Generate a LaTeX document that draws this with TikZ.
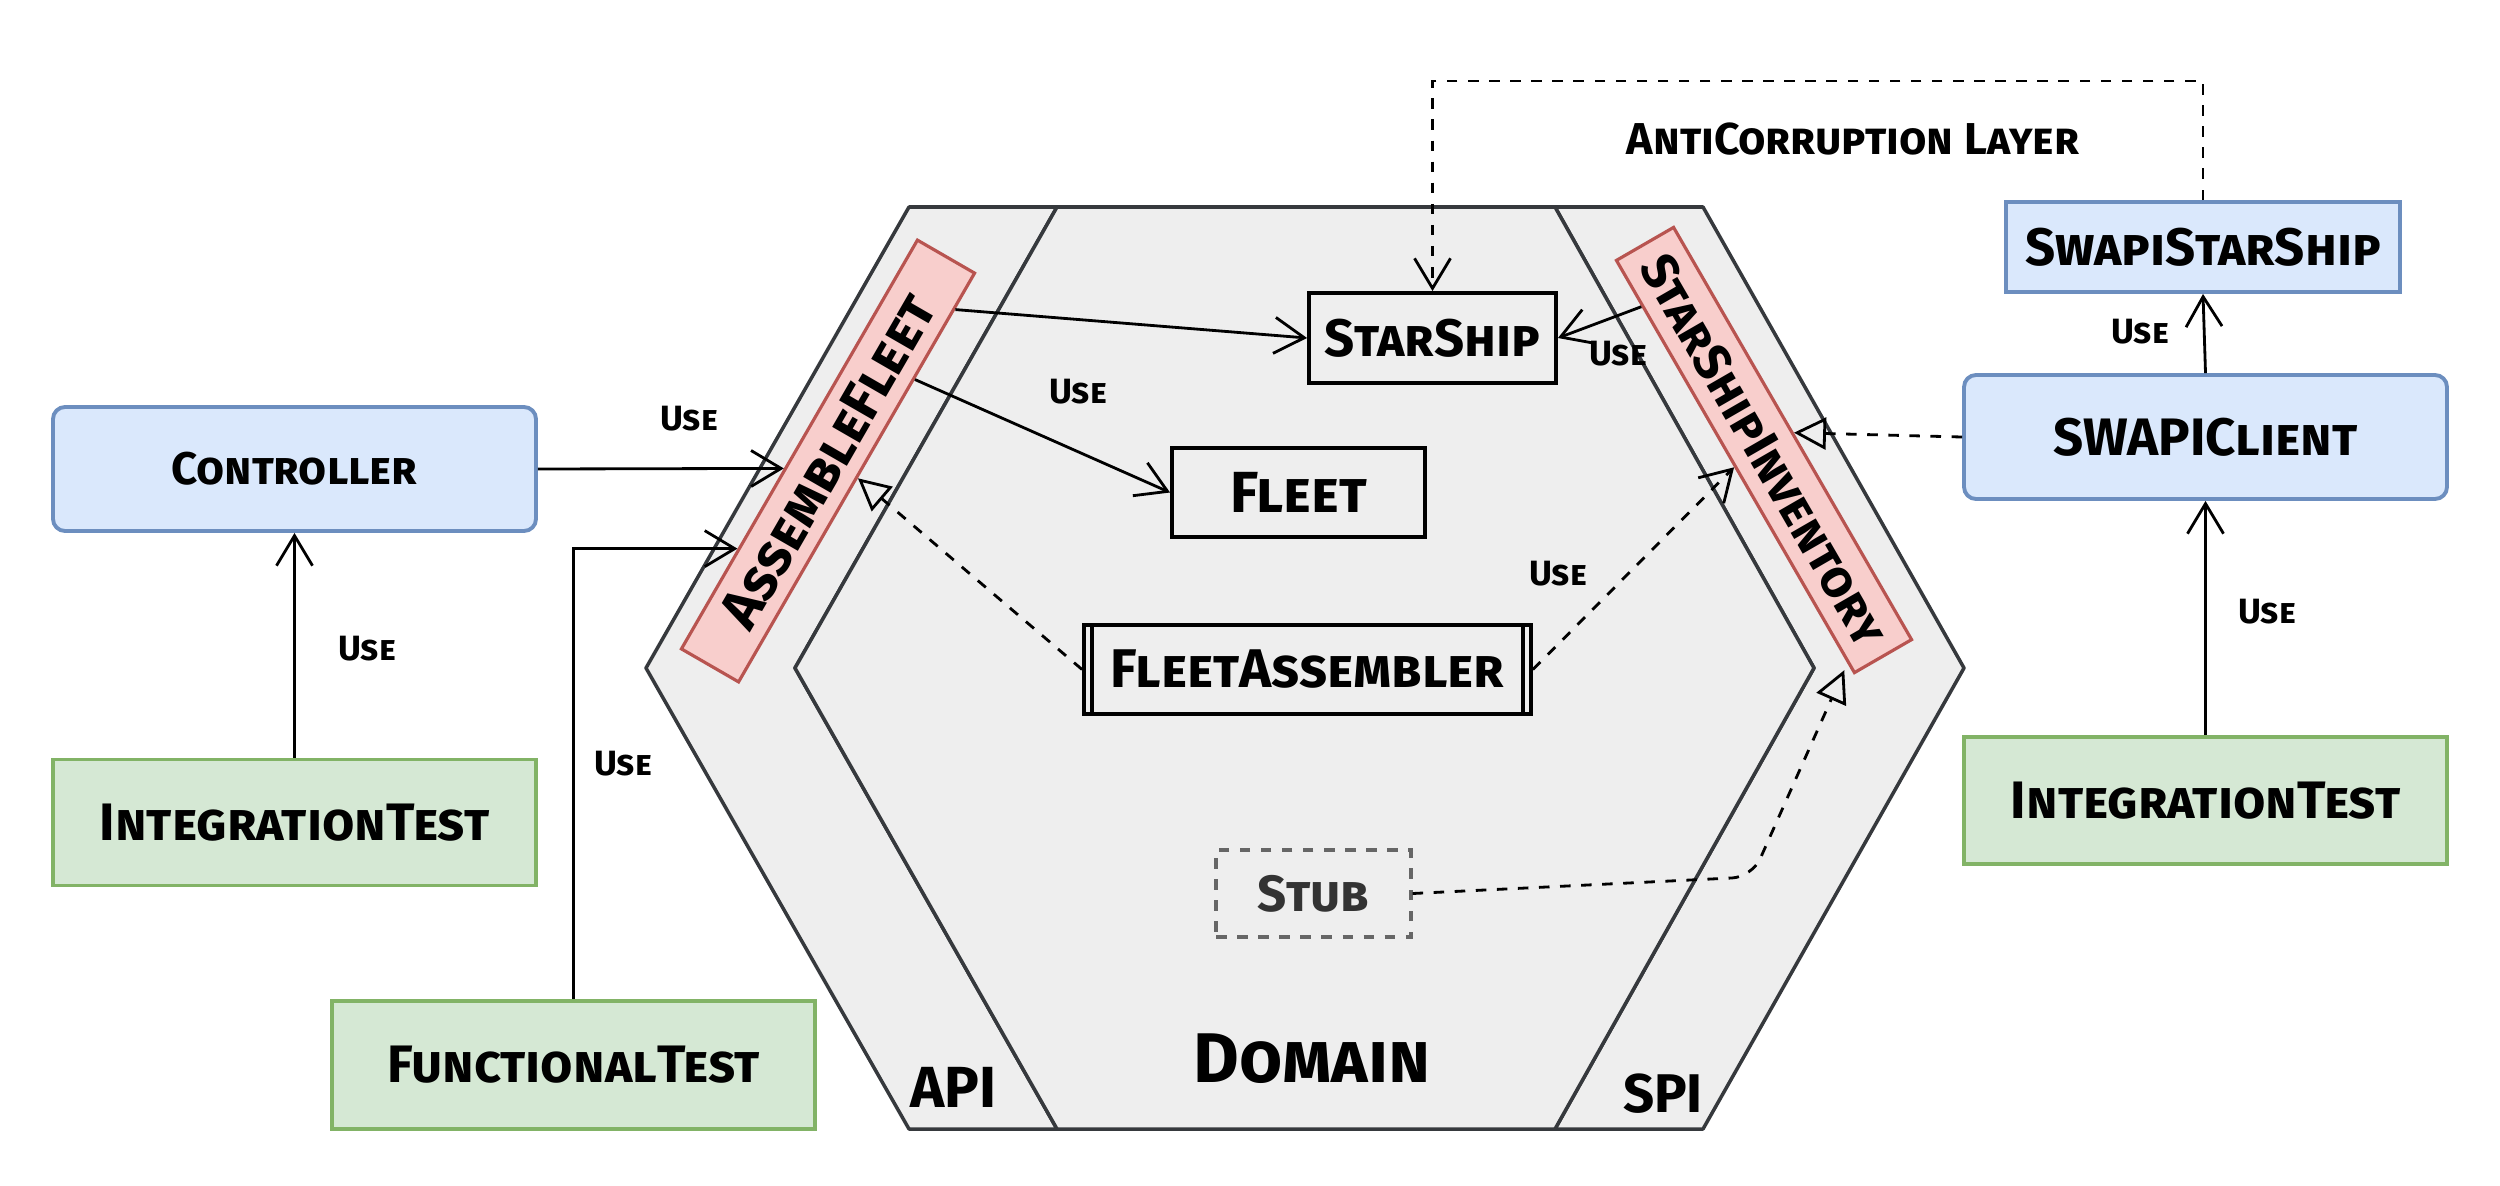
\documentclass[tikz,border=0pt]{standalone}
\usepackage{fontspec}
\setmainfont{Fira Sans}
\usetikzlibrary{arrows.meta,calc}
\definecolor{blueF}{HTML}{DAE8FC}
\definecolor{blueD}{HTML}{6C8EBF}
\definecolor{greenF}{HTML}{D5E8D4}
\definecolor{greenD}{HTML}{82B366}
\definecolor{redF}{HTML}{F8CECC}
\definecolor{redD}{HTML}{B85450}
\definecolor{hexF}{HTML}{EEEEEE}
\definecolor{hexD}{HTML}{36393D}
\definecolor{stubD}{HTML}{666666}
\definecolor{stubT}{HTML}{333333}
\begin{document}
\begin{tikzpicture}[x=0.1mm,y=-0.1mm,
  big/.style={font=\fontsize{15}{17}\selectfont\bfseries\scshape},
  usel/.style={font=\fontsize{10}{12}\selectfont\bfseries\scshape, inner sep=0pt},
  hexline/.style={draw=hexD, fill=hexF, line width=1pt, line join=round},
  bluebox/.style={big, draw=blueD, fill=blueF, line width=1.1pt, rounded corners=1.2mm, minimum width=48.3mm, minimum height=12.4mm},
  greenbox/.style={big, draw=greenD, fill=greenF, line width=1.1pt, minimum width=48.3mm, minimum height=12.6mm},
  plainbox/.style={big, draw=black, line width=1.1pt},
  redbox/.style={draw=redD, fill=redF, line width=0.9pt, minimum width=47.2mm, minimum height=6.6mm, inner sep=1pt},
  conn/.style={line width=0.8pt, -{Straight Barb[length=3mm,width=3.6mm,line width=0.8pt]}},
  dconn/.style={conn, dashed},
  real/.style={line width=0.8pt, dashed, -{Triangle[open,length=3.2mm,width=3.2mm,line width=0.8pt]}}
]
\useasboundingbox (0,0) rectangle (2500,1185);

% hexagon: API band, SPI band, domain
\draw[hexline] (909,207) -- (1057,207) -- (795,668) -- (1057,1129) -- (909,1129) -- (646,668) -- cycle;
\draw[hexline] (1555,207) -- (1703,207) -- (1964,668) -- (1703,1129) -- (1555,1129) -- (1814,668) -- cycle;
\draw[hexline] (1057,207) -- (1555,207) -- (1814,668) -- (1555,1129) -- (1057,1129) -- (795,668) -- cycle;

\node[font=\fontsize{16.5}{19}\selectfont\bfseries\scshape] (api) at (953,1087) {API};
\node[font=\fontsize{15.5}{18}\selectfont\bfseries\scshape] (spi) at (1663,1094) {SPI};
\node[font=\fontsize{20}{24}\selectfont\bfseries\scshape] (domain) at (1312,1059) {Domain};

% outside boxes
\node[bluebox, font=\fontsize{13}{15}\selectfont\bfseries\scshape] (ctrl) at (294.5,469) {Controller};
\node[greenbox] (itl) at (294.5,822.5) {IntegrationTest};
\node[greenbox, minimum height=12.8mm] (ft) at (573.5,1065) {FunctionalTest};
\node[bluebox, rounded corners=0pt, minimum width=39.4mm, minimum height=9mm] (sss) at (2203,247) {SwapiStarShip};
\node[bluebox] (swc) at (2205.5,437) {SWAPIClient};
\node[greenbox, minimum height=12.7mm] (itr) at (2205.5,800.5) {IntegrationTest};

% domain boxes
\node[plainbox, minimum width=24.7mm, minimum height=9mm] (ss) at (1432.5,338) {StarShip};
\node[plainbox, minimum width=25.3mm, minimum height=8.9mm, font=\fontsize{16.5}{19}\selectfont\bfseries\scshape] (fleet) at (1298.5,492.5) {Fleet};
\node[plainbox, minimum width=44.7mm, minimum height=8.9mm, font=\fontsize{15.5}{18}\selectfont\bfseries\scshape] (fa) at (1307.5,669.5) {FleetAssembler};
\draw[line width=1.1pt] ([xshift=1mm]fa.north west) -- ([xshift=1mm]fa.south west);
\draw[line width=1.1pt] ([xshift=-1mm]fa.north east) -- ([xshift=-1mm]fa.south east);
\node[draw=stubD, dashed, line width=0.9pt, text=stubT, minimum width=19.5mm, minimum height=8.7mm, font=\fontsize{14.5}{17}\selectfont\bfseries\scshape] (stub) at (1313.5,893.5) {Stub};

% ports
\node[redbox, rotate=60, font=\fontsize{16}{18}\selectfont\bfseries\scshape] (af) at (828,461) {AssembleFleet};
\node[redbox, rotate=-60, minimum width=47.6mm, font=\fontsize{14.5}{17}\selectfont\bfseries\scshape] (ssi) at (1764,450) {StarShipInventory};

% connector anchor points
\coordinate (afin1) at ($(af.north west)!0.44!(af.north east)$);
\coordinate (afin2) at ($(af.north west)!0.245!(af.north east)$);
\coordinate (afout1) at ($(af.south west)!0.91!(af.south east)$);
\coordinate (afout2) at ($(af.south west)!0.74!(af.south east)$);
\coordinate (ssiout) at ($(ssi.south west)!0.113!(ssi.south east)$);
\coordinate (ssibot) at ($(ssi.south west)!0.96!(ssi.south east)+(0,12)$);
\coordinate (stubbend) at (1752,877);

% connectors
\draw[conn] (ctrl.east) -- (afin1);
\draw[conn] (itl.north) -- (ctrl.south);
\draw[conn] (ft.north) |- (afin2);
\draw[conn] (afout1) -- (ss.west);
\draw[conn] (afout2) -- (fleet.west);
\draw[conn] (ssiout) -- (ss.east);
\draw[real] (fa.west) -- (af.south);
\draw[dconn] (fa.east) -- (ssi.south);
\draw[real, rounded corners=2mm] (stub.east) -- (stubbend) -- (ssibot);
\draw[real] (swc.west) -- (ssi.north);
\draw[conn] (swc.north) -- (sss.south);
\draw[conn] (itr.north) -- (swc.south);
\draw[dconn] (sss.north) -- ++(0,-119) -| (ss.north);

% labels
\node[usel] (u1) at (689,419) {Use};
\node[usel] (u2) at (367,649) {Use};
\node[usel] (u3) at (623,764) {Use};
\node[usel] (u4) at (1078,392) {Use};
\node[usel] (u5) at (1618,354) {Use};
\node[usel] (u6) at (1558,574) {Use};
\node[usel] (u7) at (2267,612) {Use};
\node[usel] (u8) at (2140,332) {Use};
\node[font=\fontsize{12.7}{15}\selectfont\bfseries\scshape] (acl) at (1853,139) {AntiCorruption Layer};
\end{tikzpicture}
\end{document}
